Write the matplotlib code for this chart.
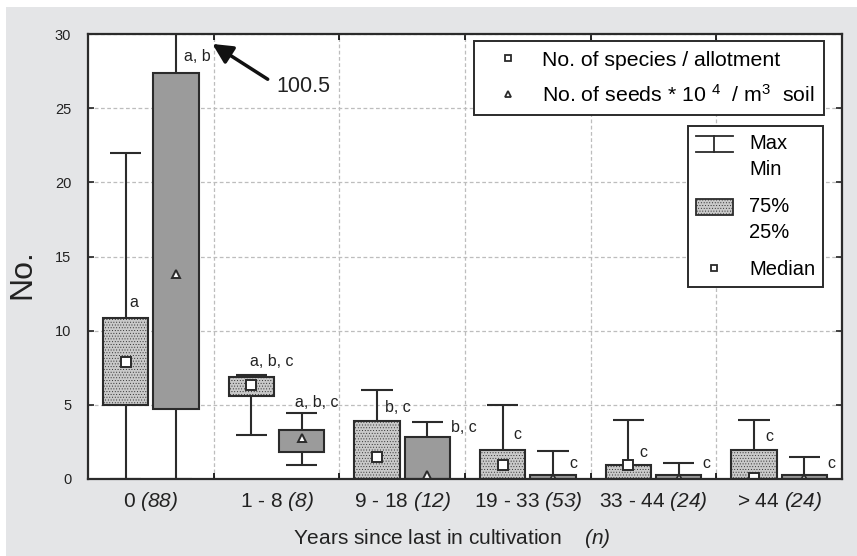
import matplotlib
matplotlib.use("Agg")
import matplotlib.pyplot as plt
from matplotlib.legend_handler import HandlerBase
from matplotlib.lines import Line2D
from matplotlib.patches import Rectangle
import numpy as np

plt.rcParams["font.family"] = ["Liberation Sans", "DejaVu Sans"]
plt.rcParams["mathtext.fontset"] = "custom"
plt.rcParams["mathtext.rm"] = "Liberation Sans"
plt.rcParams["mathtext.it"] = "Liberation Sans:italic"
plt.rcParams["mathtext.sf"] = "Liberation Sans:italic"
plt.rcParams["hatch.linewidth"] = 0.35
plt.rcParams["hatch.color"] = "#a8a8a8"

# data
GROUPS = ["0", "1 - 8", "9 - 18", "19 - 33", "33 - 44", "> 44"]
N = [88, 8, 12, 53, 24, 24]

SPECIES_MIN = [0.0, 3.0, 0.0, 0.0, 0.0, 0.0]
SPECIES_Q1 = [5.0, 5.6, 0.0, 0.0, 0.0, 0.0]
SPECIES_MED = [7.9, 6.35, 1.45, 0.95, 0.95, 0.05]
SPECIES_Q3 = [10.85, 6.85, 3.9, 1.95, 0.95, 1.95]
SPECIES_MAX = [22.0, 7.0, 6.0, 5.0, 4.0, 4.0]

SEEDS_MIN = [0.0, 0.95, 0.0, 0.0, 0.0, 0.0]
SEEDS_Q1 = [4.7, 1.85, 0.0, 0.0, 0.0, 0.0]
SEEDS_MED = [13.8, 2.75, 0.3, 0.05, 0.05, 0.05]
SEEDS_Q3 = [27.35, 3.3, 2.85, 0.3, 0.3, 0.3]
SEEDS_MAX = [100.5, 4.45, 3.85, 1.9, 1.05, 1.45]

SPECIES_LETTERS = ["a", "a, b, c", "b, c", "c", "c", "c"]
SEEDS_LETTERS = ["a, b", "a, b, c", "b, c", "c", "c", "c"]

# annotation layout (letter positions relative to each box centre)
SPECIES_LABEL_Y = [11.9, 7.95, 4.85, 3.03, 1.78, 2.85]
SPECIES_LABEL_DX = [0.03, -0.01, 0.065, 0.085, 0.085, 0.09]
SEEDS_LABEL_Y = [28.5, 5.15, 3.5, 1.07, 1.07, 1.07]
SEEDS_LABEL_DX = [0.06, -0.05, 0.19, 0.13, 0.19, 0.18]

EDGE = "#2b2b2b"
TXT = "#222222"
SPECIES_FC = "#c9c9c9"
SEEDS_FC = "#9b9b9b"
BG = "#e4e5e7"
OFFSET = 0.2
BOX_W = 0.36
CAP_W = 0.25


class WhiskerSymbol:
    pass


class HandlerWhisker(HandlerBase):
    def create_artists(self, legend, orig_handle, xdescent, ydescent,
                       width, height, fontsize, trans):
        lift = 0.65 * fontsize
        x0, x1 = -xdescent, -xdescent + width
        y0, y1 = -ydescent + lift, -ydescent + height + lift
        xm = (x0 + x1) / 2
        lines = [Line2D([x0, x1], [y1, y1]), Line2D([x0, x1], [y0, y0]),
                 Line2D([xm, xm], [y0, y1])]
        for ln in lines:
            ln.set_color(EDGE)
            ln.set_linewidth(1.3)
            ln.set_transform(trans)
        return lines


class HandlerBox(HandlerBase):
    def create_artists(self, legend, orig_handle, xdescent, ydescent,
                       width, height, fontsize, trans):
        lift = 0.65 * fontsize
        r = Rectangle((-xdescent, -ydescent + lift), width, height,
                      facecolor=SPECIES_FC, edgecolor=EDGE, lw=1.3,
                      hatch="......", transform=trans)
        return [r]


def draw_boxes(ax, xs, lo, q1, med, q3, hi, fc, hatch, marker, msize):
    ax.bar(xs, np.array(q3) - np.array(q1), bottom=q1, width=BOX_W,
           facecolor=fc, edgecolor=EDGE, linewidth=1.5, hatch=hatch, zorder=3)
    ax.vlines(xs, q3, hi, color=EDGE, lw=1.5, zorder=2)
    ax.vlines(xs, lo, q1, color=EDGE, lw=1.5, zorder=2)
    ax.hlines(hi, xs - CAP_W / 2, xs + CAP_W / 2, color=EDGE, lw=1.5, zorder=2)
    ax.hlines(lo, xs - CAP_W / 2, xs + CAP_W / 2, color=EDGE, lw=1.5, zorder=2)
    ax.plot(xs, med, linestyle="none", marker=marker, ms=msize,
            mfc="white", mec=EDGE, mew=1.4, zorder=5)


fig = plt.figure(figsize=(8.57, 5.56), dpi=100)
fig.patch.set_facecolor("white")
fig.patches.append(Rectangle((6 / 857, 0), 1, 1 - 7 / 556, transform=fig.transFigure,
                             facecolor=BG, edgecolor="none", zorder=-10))
ax = fig.add_axes([88 / 857, 1 - 479 / 556, 754 / 857, 445 / 556])
ax.set_facecolor("white")

x = np.arange(len(GROUPS))
xs_sp = x - OFFSET
xs_se = x + OFFSET

draw_boxes(ax, xs_sp, SPECIES_MIN, SPECIES_Q1, SPECIES_MED, SPECIES_Q3, SPECIES_MAX,
           SPECIES_FC, "......", "s", 6.5)
draw_boxes(ax, xs_se, SEEDS_MIN, SEEDS_Q1, SEEDS_MED, SEEDS_Q3, SEEDS_MAX,
           SEEDS_FC, None, "^", 6)

for i in range(len(GROUPS)):
    ax.text(xs_sp[i] + SPECIES_LABEL_DX[i], SPECIES_LABEL_Y[i], SPECIES_LETTERS[i],
            ha="left", va="center", fontsize=11.5, color=TXT, zorder=6)
    ax.text(xs_se[i] + SEEDS_LABEL_DX[i], SEEDS_LABEL_Y[i], SEEDS_LETTERS[i],
            ha="left", va="center", fontsize=11.5, color=TXT, zorder=6)

# off-scale maximum of the first seed box
ax.annotate("", xy=(xs_se[0] + 0.29, 29.33), xytext=(xs_se[0] + 0.73, 26.95),
            arrowprops=dict(arrowstyle="-|>", color="#111111", lw=2.5,
                            mutation_scale=30, shrinkA=0, shrinkB=0), zorder=7)
ax.text(xs_se[0] + 0.8, 26.45, f"{SEEDS_MAX[0]}", ha="left", va="center",
        fontsize=15.5, color=TXT)

ax.set_xlim(-0.5, len(GROUPS) - 0.5)
ax.set_ylim(0, 30)
ax.set_yticks(np.arange(0, 31, 5))
ax.tick_params(axis="y", labelsize=10.5, pad=12, direction="in", length=4,
               width=1.2, right=True, colors=TXT)
ax.set_xticks(x)
ax.set_xticklabels([f"{g} $\\mathsf{{({n})}}$" for g, n in zip(GROUPS, N)], fontsize=15)
ax.tick_params(axis="x", which="major", length=0, pad=8, colors=TXT)
ax.set_xticks(x[:-1] + 0.5, minor=True)
ax.tick_params(axis="x", which="minor", direction="in", length=4, width=1.2,
               top=True, bottom=True)
ax.grid(True, axis="y", which="major", color="#bdbdbd", ls=(0, (3, 2)), lw=0.9)
ax.grid(True, axis="x", which="minor", color="#bdbdbd", ls=(0, (3, 2)), lw=0.9)
ax.set_axisbelow(True)
for sp in ax.spines.values():
    sp.set_color(EDGE)
    sp.set_linewidth(1.6)
    sp.set_zorder(6)

fig.text(22 / 857, 1 - 274 / 556, "No.", rotation=90, ha="center", va="center",
         fontsize=23, color=TXT)
fig.text(452 / 857, 1 - 538 / 556, "Years since last in cultivation    $\\mathsf{(n)}$",
         ha="center", va="center", fontsize=15, color=TXT)

# legend 1: series
h1 = [Line2D([], [], ls="none", marker="s", ms=5, mfc="white", mec=EDGE, mew=1.3),
      Line2D([], [], ls="none", marker="^", ms=5, mfc="white", mec=EDGE, mew=1.3)]
leg1 = ax.legend(h1, ["No. of species / allotment",
                      "No. of seeds * 10 $^4$  / m$^3$  soil"],
                 loc="upper right", bbox_to_anchor=(0.976, 0.984), fontsize=15.3,
                 frameon=True, fancybox=False, edgecolor=EDGE, framealpha=1,
                 handlelength=2.3, handletextpad=0.45, borderpad=0.45,
                 labelspacing=0.65, borderaxespad=0)
leg1.get_frame().set_linewidth(1.4)
ax.add_artist(leg1)

# legend 2: box elements
h2 = [WhiskerSymbol(), Rectangle((0, 0), 1, 1),
      Line2D([], [], ls="none", marker="s", ms=5, mfc="white", mec=EDGE, mew=1.3)]
leg2 = ax.legend(h2, ["Max\nMin", "75%\n25%", "Median"],
                 handler_map={WhiskerSymbol: HandlerWhisker(), Rectangle: HandlerBox()},
                 loc="upper right", bbox_to_anchor=(0.975, 0.793), fontsize=14.5,
                 frameon=True, fancybox=False, edgecolor=EDGE, framealpha=1,
                 handlelength=1.85, handleheight=0.9, handletextpad=0.8,
                 borderpad=0.4, labelspacing=0.9, borderaxespad=0)
leg2.get_frame().set_linewidth(1.4)
for t in leg2.get_texts():
    t.set_linespacing(1.45)

fig.savefig("out.png", dpi=100, facecolor=fig.get_facecolor())
